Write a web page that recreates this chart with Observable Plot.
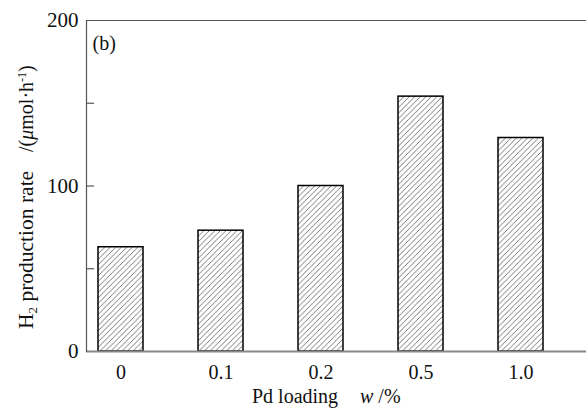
<!DOCTYPE html>
<html>
<head>
<meta charset="utf-8">
<script src="https://cdn.jsdelivr.net/npm/d3@7"></script>
<script src="https://cdn.jsdelivr.net/npm/@observablehq/plot@0.6"></script>
<style>
  body { margin: 0; background: white; }
</style>
</head>
<body>
<div id="chart"></div>
<script>
const loadings = ["0", "0.1", "0.2", "0.5", "1.0"];
const rates = [63, 73, 100, 154, 129];
const yLabelTicks = [0, 100, 200];
const yMinorTicks = [50, 100, 150];

const data = loadings.map((w, i) => ({w, rate: rates[i]}));

const hatchDefs = () => {
  const g = d3.create("svg:g");
  const p = g.append("defs").append("pattern")
    .attr("id", "hatch")
    .attr("patternUnits", "userSpaceOnUse")
    .attr("width", 5.5)
    .attr("height", 5.5);
  p.append("rect").attr("width", 5.5).attr("height", 5.5).attr("fill", "white");
  p.append("path")
    .attr("d", "M-1,1 l2,-2 M0,5.5 l5.5,-5.5 M4.5,6.5 l2,-2")
    .attr("stroke", "#555")
    .attr("stroke-width", 0.8);
  return g.node();
};

const FONT = "'Liberation Serif', 'Times New Roman', serif";

const chart = Plot.plot({
  width: 586,
  height: 410,
  marginLeft: 86,
  marginRight: 0,
  marginTop: 20,
  marginBottom: 59,
  style: {fontFamily: FONT, fontSize: "20px", background: "white", color: "#111"},
  x: {domain: loadings, range: [86, 555], paddingInner: 0.554, paddingOuter: 0.099, label: null},
  y: {domain: [0, 200], label: null},
  marks: [
    hatchDefs,
    Plot.barY(data, {x: "w", y: "rate", fill: "url(#hatch)", stroke: "black", strokeWidth: 1.5}),
    Plot.ruleY([0], {stroke: "#888", strokeWidth: 2}),
    Plot.ruleY([200], {stroke: "#555", strokeWidth: 1.2}),
    Plot.frame({anchor: "left", stroke: "#555", strokeWidth: 1.2}),
    Plot.axisY({ticks: yLabelTicks, tickSize: 0, tickPadding: 8, fontSize: 21, label: null}),
    Plot.axisY({ticks: yMinorTicks, tickSize: -8, text: null, label: null, stroke: "#555", strokeWidth: 1.2}),
    Plot.axisX({tickSize: 0, tickPadding: 13, fontSize: 20, label: null}),
    Plot.text(["(b)"], {frameAnchor: "top-left", dx: 6, dy: 15, fontSize: 20, textAnchor: "start"})
  ]
});

const svg = d3.select(chart);
// Y axis title
const t1 = svg.append("text")
  .attr("transform", "translate(33,329) rotate(-90)")
  .attr("text-anchor", "start")
  .style("font-size", "21.5px").style("font-family", FONT).attr("fill", "#111");
t1.append("tspan").text("H");
t1.append("tspan").style("font-size", "13px").attr("dy", 4).text("2");
t1.append("tspan").attr("dy", -4).text(" production rate");

const t2 = svg.append("text")
  .attr("transform", "translate(33,152) rotate(-90)")
  .attr("text-anchor", "start")
  .style("font-size", "20px").style("font-family", FONT).attr("fill", "#111");
t2.append("tspan").text("/(");
t2.append("tspan").style("font-style", "italic").text("μ");
t2.append("tspan").text("mol·h");
t2.append("tspan").style("font-size", "12px").attr("dy", -7).text("-1");
t2.append("tspan").attr("dy", 7).text(")");

// X axis title
const t3 = svg.append("text")
  .attr("x", 252).attr("y", 403)
  .attr("text-anchor", "start")
  .style("font-size", "20px").style("font-family", FONT).attr("fill", "#111");
t3.append("tspan").text("Pd loading");
t3.append("tspan").attr("x", 360).style("font-style", "italic").text("w");
t3.append("tspan").text(" /%");

document.getElementById("chart").append(chart);
</script>
</body>
</html>
